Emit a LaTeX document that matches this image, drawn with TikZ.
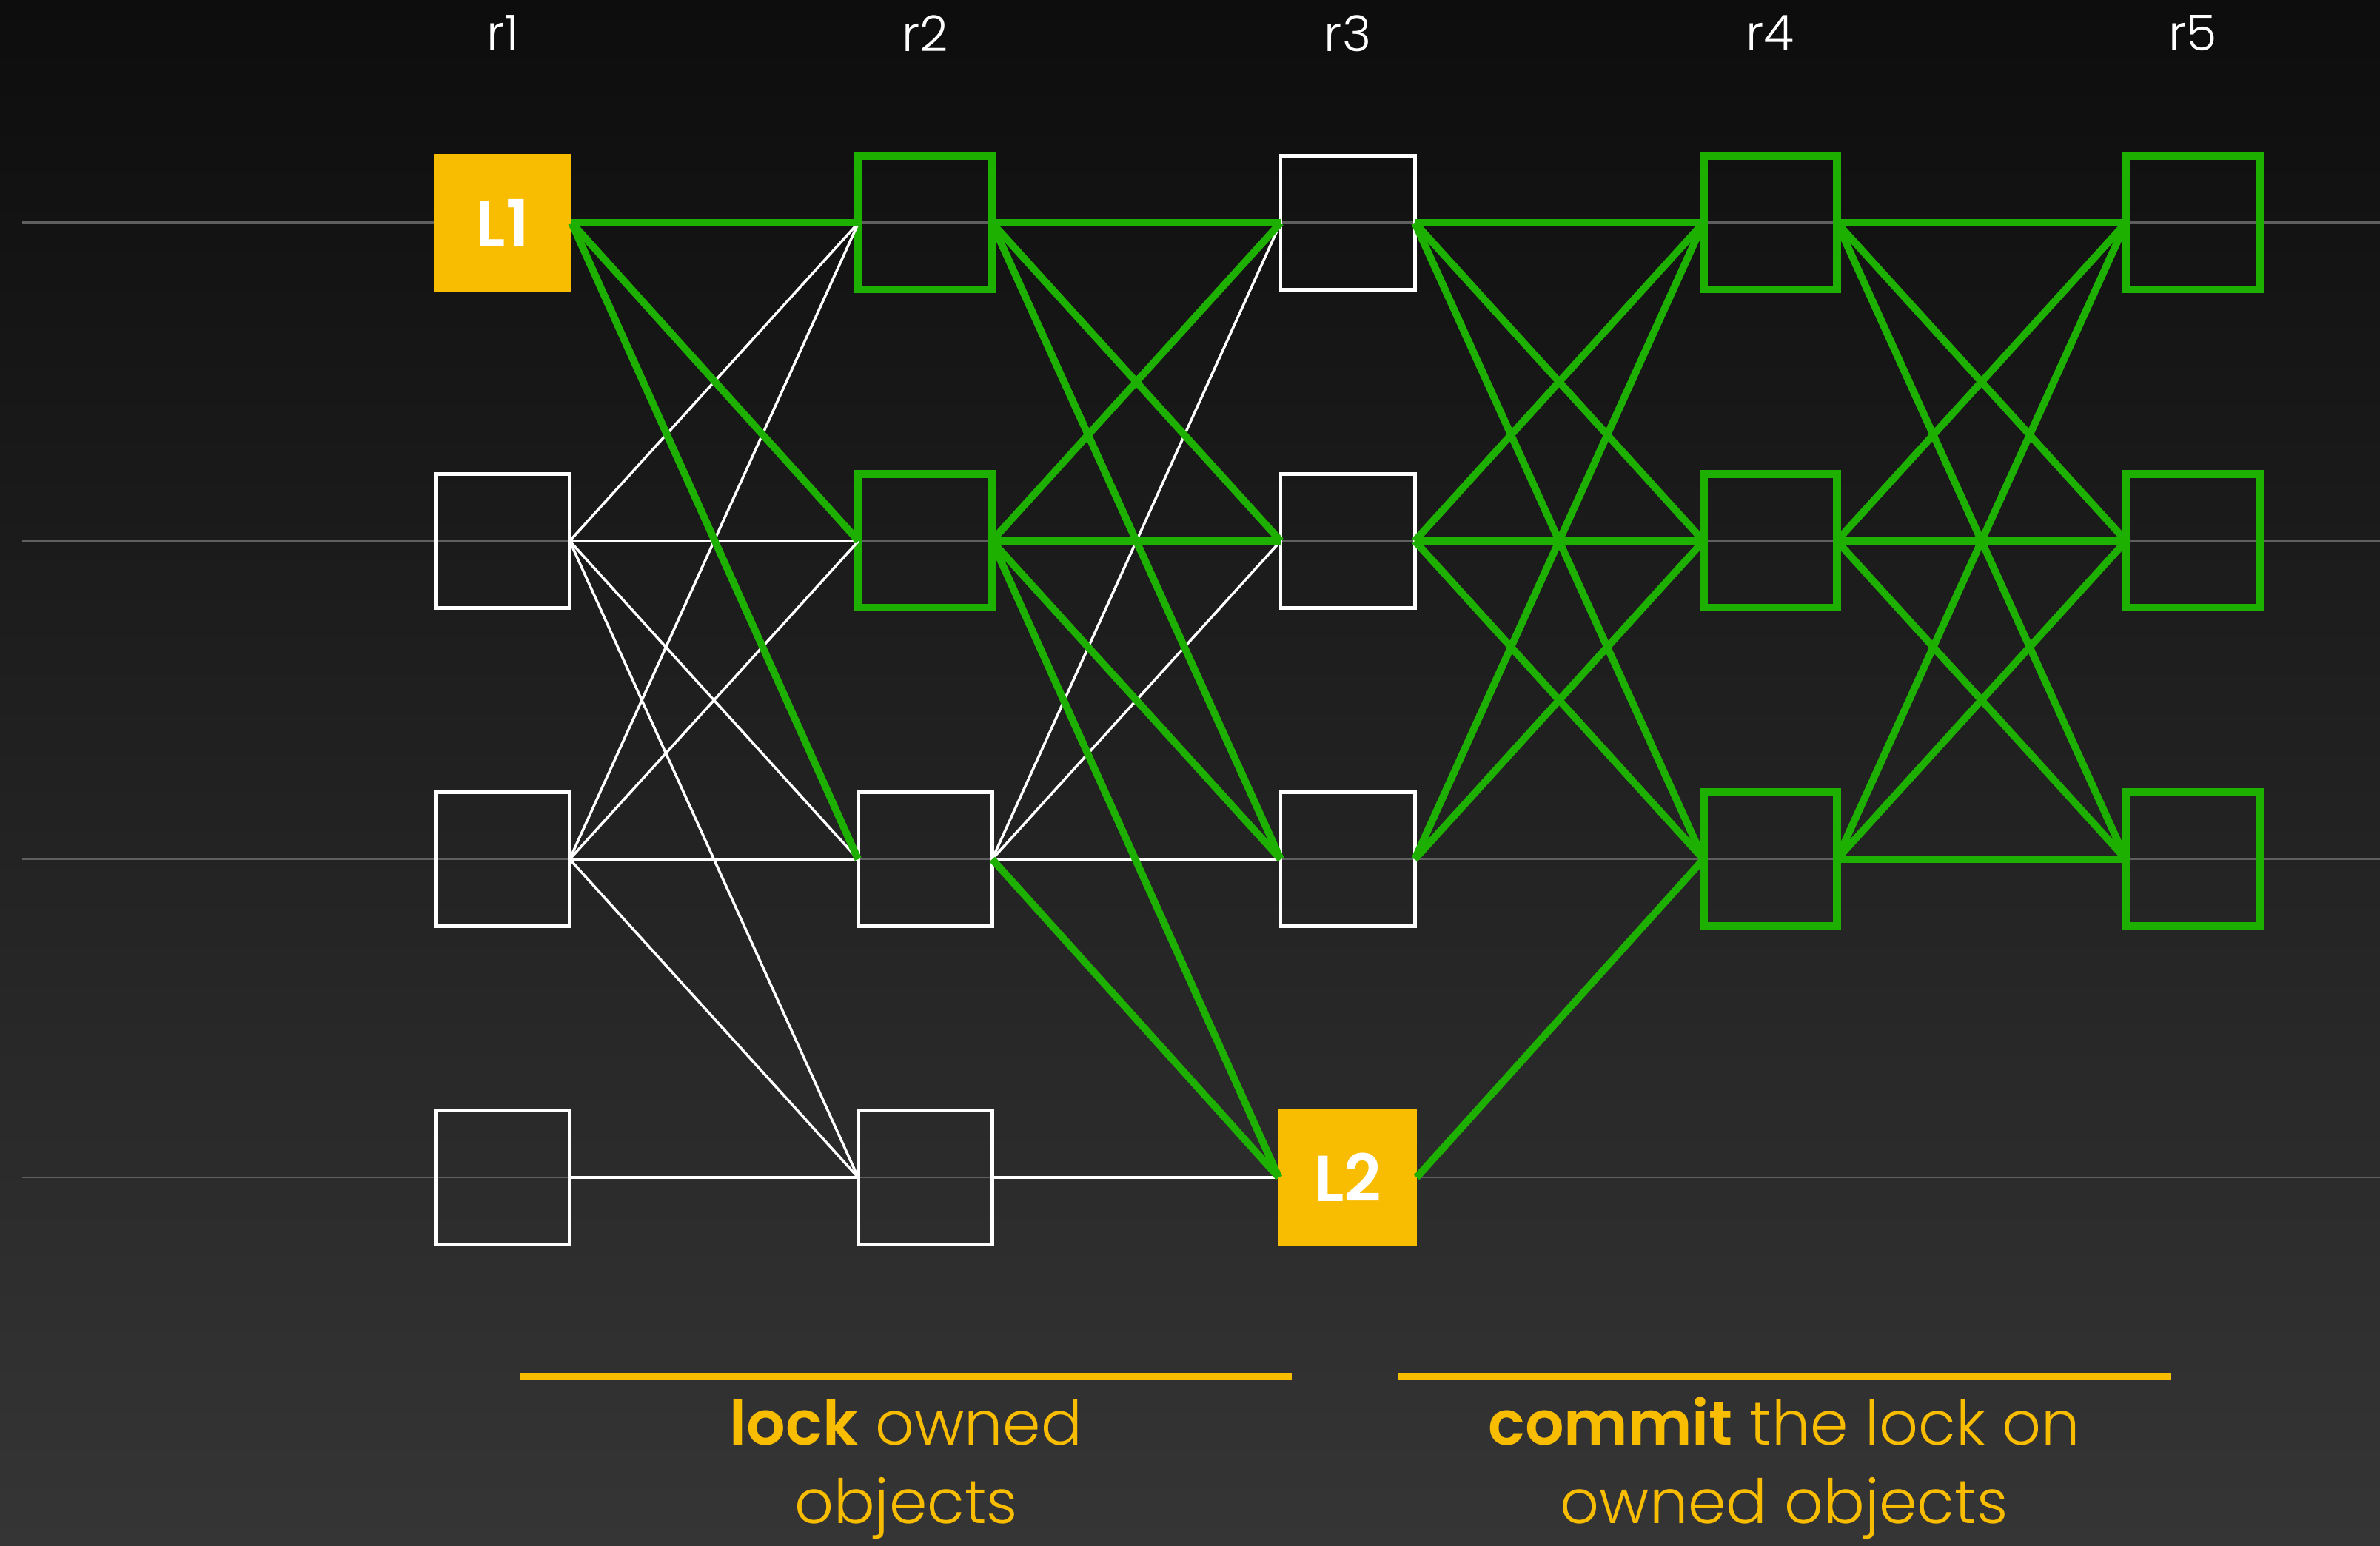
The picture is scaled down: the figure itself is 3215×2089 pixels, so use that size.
\documentclass[tikz,border=0pt]{standalone}
\usepackage{fontspec}
\setmainfont{Poppins}[UprightFont={* Light},BoldFont={* SemiBold}]
\definecolor{lockgreen}{RGB}{30,176,0}
\definecolor{lockyellow}{RGB}{248,188,0}
\definecolor{bgtop}{RGB}{13,13,13}
\definecolor{bgbottom}{RGB}{53,53,53}
\definecolor{rowgray}{RGB}{95,95,95}
\tikzset{
  plain/.style={draw=white,line width=1.4pt,minimum size=1.81cm,inner sep=0pt,outer sep=0pt},
  owned/.style={draw=lockgreen,line width=3.1pt,minimum size=1.80cm,inner sep=0pt,outer sep=0pt},
  locked/.style={fill=lockyellow,minimum size=1.86cm,inner sep=0pt,outer sep=0pt,text=white,
    font=\fontsize{25}{30}\selectfont\bfseries},
  wire/.style={white,line width=1pt},
  gwire/.style={lockgreen,line width=2.8pt},
  roundlabel/.style={text=white,font=\fontsize{19}{22}\selectfont},
  caption/.style={text=lockyellow,align=center,anchor=base,font=\fontsize{23.5}{30}\selectfont},
  bar/.style={lockyellow,line width=3.1pt}
}
\begin{document}
\begin{tikzpicture}[x=0.01cm,y=-0.01cm]
  % Background and row lines
  \shade[top color=bgtop,bottom color=bgbottom] (0,0) rectangle (3215,2089);
  \useasboundingbox (0,0) rectangle (3215,2089);
  \foreach \y in {301,731,1161,1591}
    \draw[rowgray,line width=0.85pt] (30,\y) -- (3215,\y);
  % Objects per round
  \foreach \c/\r/\s/\t in {1/1/locked/L1,1/2/plain/,1/3/plain/,1/4/plain/,
                           2/1/owned/,2/2/owned/,2/3/plain/,2/4/plain/,
                           3/1/plain/,3/2/plain/,3/3/plain/,3/4/locked/L2,
                           4/1/owned/,4/2/owned/,4/3/owned/,
                           5/1/owned/,5/2/owned/,5/3/owned/}{
    \node[\s] (o\c\r) at ({679+570.75*(\c-1)},{301+430*(\r-1)}) {\t};
  }
  \foreach \c in {1,...,5}
    \node[roundlabel] (r\c) at ({679+570.75*(\c-1)},45) {r\c};
  % Links, round 1 to 2
  \foreach \a/\b in {2/1,2/2,2/3,2/4,3/1,3/2,3/3,3/4,4/4}
    \draw[wire] (o1\a.east) -- (o2\b.west);
  \foreach \b in {1,2,3}
    \draw[gwire] (o11.east) -- (o2\b.west);
  % Links, round 2 to 3
  \foreach \a/\b in {3/1,3/2,3/3,4/4}
    \draw[wire] (o2\a.east) -- (o3\b.west);
  \foreach \a/\b in {1/1,1/2,1/3,2/1,2/2,2/3,2/4,3/4}
    \draw[gwire] (o2\a.east) -- (o3\b.west);
  % Links, round 3 to 4
  \foreach \a/\b in {1/1,1/2,1/3,2/1,2/2,2/3,3/1,3/2,4/3}
    \draw[gwire] (o3\a.east) -- (o4\b.west);
  % Links, round 4 to 5
  \foreach \a in {1,2,3}
    \foreach \b in {1,2,3}
      \draw[gwire] (o4\a.east) -- (o5\b.west);
  % Phases
  \draw[bar] (703,1860) -- (1745,1860);
  \draw[bar] (1888,1860) -- (2932,1860);
  \node[caption] (lockcap) at (1224,2058) {\textbf{lock} owned\\objects};
  \node[caption] (commitcap) at (2410,2058) {\textbf{commit} the lock on\\owned objects};
\end{tikzpicture}
\end{document}
